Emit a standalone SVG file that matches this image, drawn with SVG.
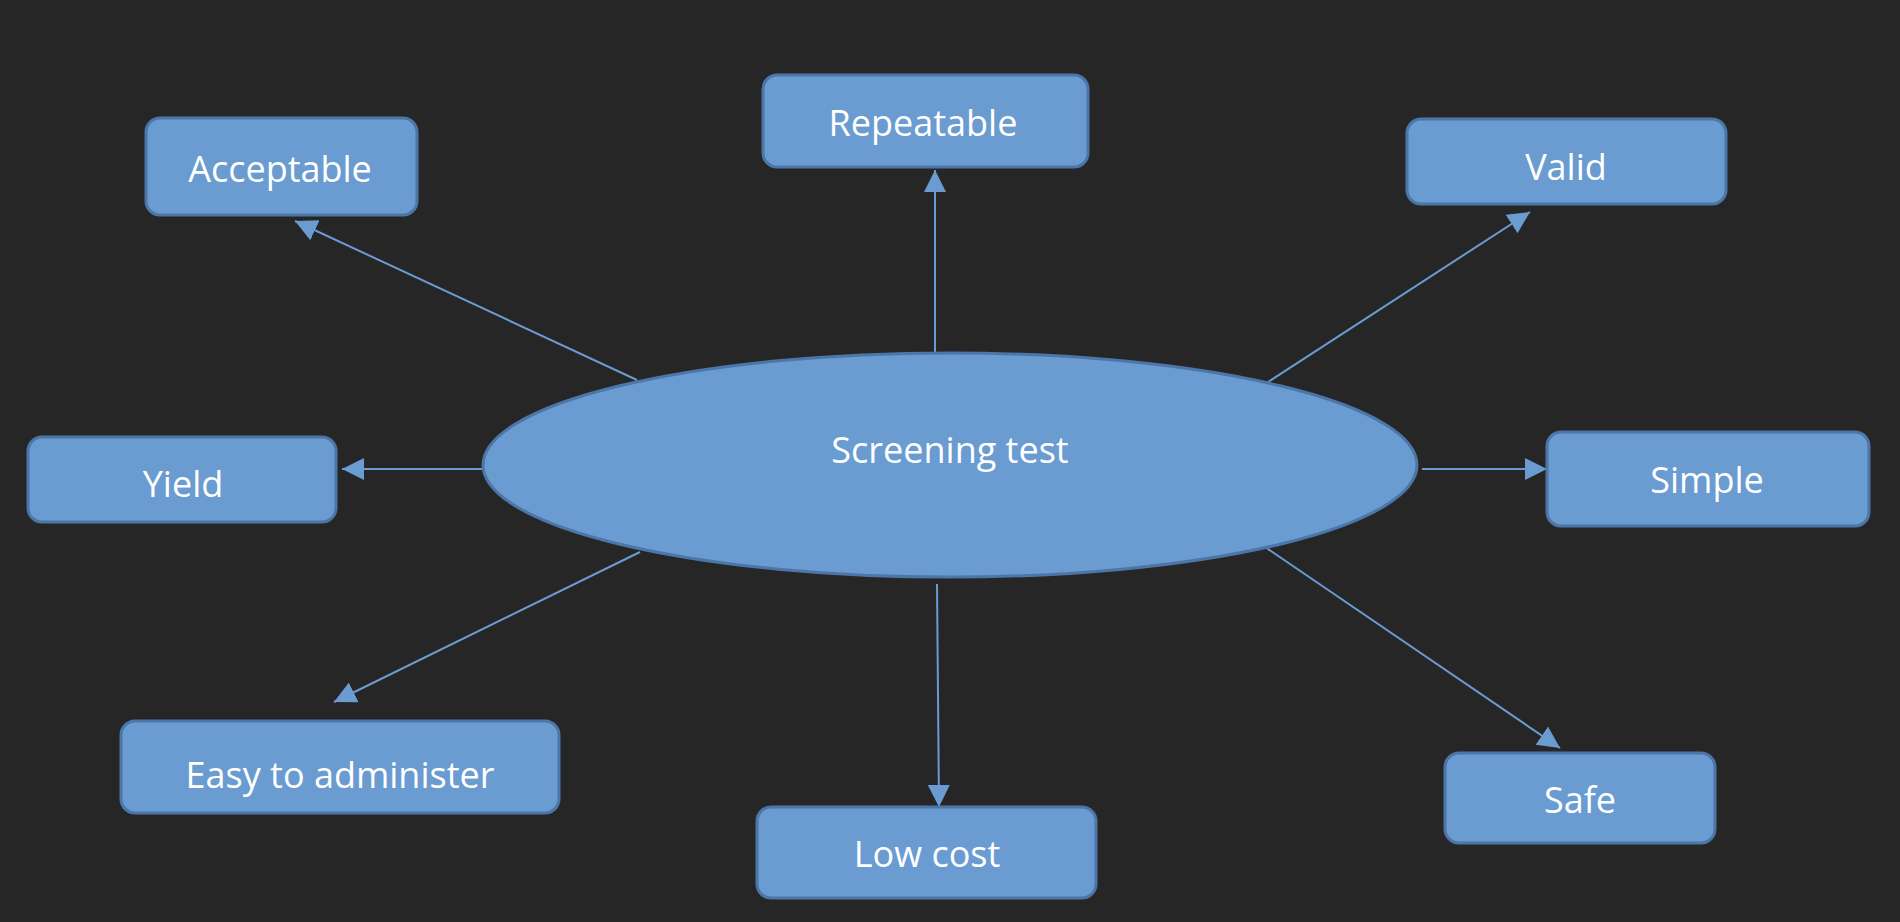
<svg xmlns="http://www.w3.org/2000/svg" width="1900" height="922" viewBox="0 0 1900 922">
<style>
.bg{fill:#262626}
.box{fill:#6a9bd1;stroke:#4c76a8;stroke-width:3}
.lbl{fill:#ffffff;font-family:"Open Sans","Noto Sans",sans-serif;font-size:36px;text-anchor:middle}
.edge{stroke:#6a9bd1;stroke-width:2;fill:none}
</style>
<defs>
<marker id="ah" markerUnits="userSpaceOnUse" markerWidth="24" markerHeight="24" viewBox="0 0 24 24" refX="22" refY="12" orient="auto">
<path d="M0,1 L22,12 L0,23 Z" fill="#6a9bd1"/>
</marker>
</defs>
<rect class="bg" x="0" y="0" width="1900" height="922"/>
<g id="connectors">
<line class="edge" x1="637" y1="380" x2="295" y2="221" marker-end="url(#ah)"/>
<line class="edge" x1="935" y1="353" x2="935" y2="170" marker-end="url(#ah)"/>
<line class="edge" x1="1268" y1="382" x2="1530" y2="212" marker-end="url(#ah)"/>
<line class="edge" x1="483" y1="469" x2="342" y2="469" marker-end="url(#ah)"/>
<line class="edge" x1="1422" y1="469" x2="1547" y2="469" marker-end="url(#ah)"/>
<line class="edge" x1="640" y1="552" x2="334" y2="702" marker-end="url(#ah)"/>
<line class="edge" x1="937" y1="584" x2="939" y2="807" marker-end="url(#ah)"/>
<line class="edge" x1="1265" y1="547" x2="1560" y2="748" marker-end="url(#ah)"/>
</g>
<g id="screening-test">
<ellipse class="box" cx="950" cy="465" rx="467" ry="112"/>
<text class="lbl" x="950" y="463">Screening test</text>
</g>
<g id="acceptable">
<rect class="box" x="146" y="118" width="271" height="97" rx="14"/>
<text class="lbl" x="280" y="182">Acceptable</text>
</g>
<g id="repeatable">
<rect class="box" x="763" y="75" width="325" height="92" rx="14"/>
<text class="lbl" x="923" y="136">Repeatable</text>
</g>
<g id="valid">
<rect class="box" x="1407" y="119" width="319" height="85" rx="14"/>
<text class="lbl" x="1566" y="180">Valid</text>
</g>
<g id="yield">
<rect class="box" x="28" y="437" width="308" height="85" rx="14"/>
<text class="lbl" x="183" y="497">Yield</text>
</g>
<g id="simple">
<rect class="box" x="1547" y="432" width="322" height="94" rx="14"/>
<text class="lbl" x="1707" y="493">Simple</text>
</g>
<g id="easy-to-administer">
<rect class="box" x="121" y="721" width="438" height="92" rx="14"/>
<text class="lbl" x="340" y="788">Easy to administer</text>
</g>
<g id="low-cost">
<rect class="box" x="757" y="807" width="339" height="91" rx="14"/>
<text class="lbl" x="927" y="867">Low cost</text>
</g>
<g id="safe">
<rect class="box" x="1445" y="753" width="270" height="90" rx="14"/>
<text class="lbl" x="1580" y="813">Safe</text>
</g>
</svg>
